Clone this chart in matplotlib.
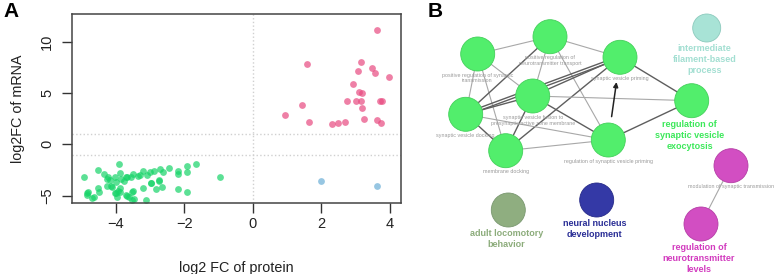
import matplotlib
matplotlib.use('Agg')
import matplotlib.pyplot as plt
from matplotlib.patches import Circle
import numpy as np

plt.rcParams['font.family'] = ['Liberation Sans', 'DejaVu Sans']

# ============================ panel A data ============================
# up in both (pink)
prot_up = [3.62, 1.59, 3.14, 3.08, 3.48, 3.57, 3.98, 2.92, 3.09, 3.17, 2.76, 3.00, 3.14,
           3.70, 3.78, 3.18, 1.44, 0.95, 1.65, 2.32, 2.48, 2.70, 3.25, 3.62, 3.74]
mrna_up = [11.13, 7.85, 8.05, 7.14, 7.43, 6.97, 6.52, 5.90, 5.09, 5.00, 4.19, 4.19, 4.25,
           4.25, 4.19, 3.53, 3.83, 2.88, 2.14, 2.01, 2.07, 2.14, 2.46, 2.40, 2.11]
# down in both (green)
prot_dn = [-3.90, -1.67, -1.93, -2.18, -2.46, -2.71, -2.61, -2.88, -3.00, -3.20, -3.10, -3.36,
           -3.51, -3.55, -3.71, -3.88, -4.02, -4.16, -4.34, -4.24, -4.51, -4.92, -0.97, -1.93,
           -2.18, -2.98, -2.73, -2.64, -2.82, -3.22, -3.51, -3.88, -3.93, -4.03, -3.97, -3.88,
           -3.71, -3.61, -3.48, -3.11, -4.51, -4.48, -4.82, -4.84, -4.65, -4.10, -4.27, -2.18,
           -1.93, -3.76, -4.00, -3.30, -2.75, -4.26, -4.13, -3.84, -3.67, -4.84, -4.69, -3.54,
           -3.52, -2.96, -3.67, -3.99]
mrna_dn = [-1.92, -1.95, -2.10, -2.56, -2.27, -2.43, -2.66, -2.60, -2.73, -2.56, -2.98, -3.08,
           -2.85, -3.18, -3.18, -2.82, -3.15, -3.47, -2.89, -3.15, -2.47, -3.15, -3.18, -2.66,
           -2.89, -3.73, -3.57, -4.12, -4.38, -4.22, -4.58, -4.25, -4.51, -4.77, -5.10, -4.61,
           -4.93, -5.13, -5.36, -5.42, -4.28, -4.61, -4.61, -4.90, -5.16, -4.19, -4.06, -4.32,
           -4.67, -3.60, -3.70, -3.00, -3.45, -3.41, -4.06, -3.35, -3.15, -4.71, -5.26, -5.42,
           -4.61, -3.74, -5.03, -4.71]
# discordant (blue)
prot_mix = [2.00, 3.62]
mrna_mix = [-3.57, -4.03]

xticks = [-4, -2, 0, 2, 4]
yticks = [-5, 0, 5, 10]

# ============================ panel B data ============================
node_names = ['positive regulation of synaptic\ntransmission',
              'positive regulation of\nneurotransmitter transport',
              'synaptic vesicle priming',
              'intermediate\nfilament-based\nprocess',
              'synaptic vesicle fusion to\npresynaptic active zone membrane',
              'synaptic vesicle docking',
              'regulation of\nsynaptic vesicle\nexocytosis',
              'membrane docking',
              'regulation of synaptic vesicle priming',
              'modulation of synaptic transmission',
              'regulation of\nneurotransmitter\nlevels',
              'adult locomotory\nbehavior',
              'neural nucleus\ndevelopment']
node_group = [0, 0, 0, 1, 0, 0, 0, 0, 0, 2, 2, 3, 4]
node_lead = [False, False, False, True, False, False, True, False, False, False, True, True, True]
edges = [(0, 1, 1), (1, 2, 1), (0, 5, 1), (0, 7, 1), (0, 4, 1), (1, 5, 2), (1, 4, 1),
         (1, 8, 1), (2, 5, 3), (2, 4, 2), (2, 7, 2), (2, 6, 2), (4, 6, 1), (4, 8, 2),
         (4, 7, 2), (5, 8, 1), (5, 7, 2), (7, 8, 1), (8, 6, 2), (9, 10, 1), (5, 4, 2)]
arrow_edges = [(8, 2)]

# layout (pixel coordinates of the network view)
node_x = [477.7, 550.0, 620.0, 706.7, 532.7, 465.7, 691.7, 505.7, 608.3, 731.0, 701.0, 508.3, 596.7]
node_y = [54.0, 36.7, 57.3, 28.0, 96.0, 114.3, 100.7, 150.7, 140.0, 165.7, 224.0, 210.0, 200.0]
group_fill = ['#52EE6C', '#A8E3D6', '#D24EC2', '#8FAE80', '#3439A6']
group_edge = ['#43D05A', '#8CCABD', '#B53DA6', '#7A9870', '#262A88']
group_text = ['#3CE85A', '#A3DFD2', '#D23CBF', '#8CAC7B', '#2A2E96']

# ================================ figure ================================
fig = plt.figure(figsize=(7.8, 2.74), dpi=100)

# ------------------------------ panel A ------------------------------
ax = fig.add_axes([72.3 / 780, 71.3 / 274, 329 / 780, 188.7 / 274])
ax.axvline(0, color='#d0d0d0', lw=1, ls=':', zorder=0)
ax.axhline(1, color='#d0d0d0', lw=1, ls=':', zorder=0)
ax.axhline(-1, color='#d0d0d0', lw=1, ls=':', zorder=0)
ax.scatter(prot_up, mrna_up, s=24, color='#E84A80', alpha=0.7, lw=0)
ax.scatter(prot_dn, mrna_dn, s=24, color='#17D468', alpha=0.7, lw=0)
ax.scatter(prot_mix, mrna_mix, s=24, color='#6BAFD6', alpha=0.7, lw=0)
ax.set_xlim(-5.27, 4.33)
ax.set_ylim(-5.69, 12.69)
ax.set_xticks(xticks)
ax.set_xticklabels([str(t).replace('-', '\u2212') for t in xticks])
ax.set_yticks(yticks)
ax.set_yticklabels([str(t).replace('-', '\u2212') for t in yticks], rotation=90, va='center')
ax.tick_params(axis='both', length=7, width=1, color='#333333', labelsize=10.5,
               labelcolor='#222222')
ax.tick_params(axis='x', pad=3)
ax.tick_params(axis='y', pad=6)
for sp in ax.spines.values():
    sp.set_color('#444444')
    sp.set_linewidth(1.1)
ax.set_xlabel('log2 FC of protein', fontsize=10.4, color='#222222', labelpad=22)
ax.set_ylabel('log2FC of mRNA', fontsize=10.4, color='#222222', labelpad=11)
fig.text(3 / 780, 1 - 2 / 274, 'A', fontsize=15, fontweight='bold', va='top', ha='left')

# ------------------------------ panel B ------------------------------
bx = fig.add_axes([410 / 780, 0, 370 / 780, 1])
bx.set_xlim(410, 780)
bx.set_ylim(274, 0)
bx.axis('off')
r = 17
for a, b, w in edges:
    col = '#A8A8A8' if w == 1 else '#5E5E5E'
    lw = 0.8 if w == 1 else 1.0
    if w == 3:
        dx, dy = node_x[b] - node_x[a], node_y[b] - node_y[a]
        n = np.hypot(dx, dy)
        ox, oy = -dy / n * 1.3, dx / n * 1.3
        for s in (-1, 1):
            bx.plot([node_x[a] + s * ox, node_x[b] + s * ox],
                    [node_y[a] + s * oy, node_y[b] + s * oy], color=col, lw=lw, zorder=1)
    else:
        bx.plot([node_x[a], node_x[b]], [node_y[a], node_y[b]], color=col, lw=lw, zorder=1)
for a, b in arrow_edges:
    bx.annotate('', xy=(node_x[b], node_y[b]), xytext=(node_x[a], node_y[a]),
                arrowprops=dict(arrowstyle='-|>', color='#222222', lw=1.1,
                                shrinkA=r, shrinkB=r + 1, mutation_scale=7), zorder=2)
for i, name in enumerate(node_names):
    g = node_group[i]
    rr = 14 if g == 1 else r
    bx.add_patch(Circle((node_x[i], node_y[i]), rr, facecolor=group_fill[g],
                        edgecolor=group_edge[g], lw=0.6, zorder=3))
    nl = name.count('\n') + 1
    if node_lead[i]:
        ty = node_y[i] + rr + 6.3 + (nl - 1) * 11.5 / 2
        bx.text(node_x[i] - 2, ty, name, ha='center', va='center', fontsize=6.5,
                fontweight='bold', color=group_text[g], linespacing=1.3, zorder=4)
    else:
        ty = node_y[i] + rr + 4 + (nl - 1) * 3
        bx.text(node_x[i], ty, name, ha='center', va='center', fontsize=3.85,
                color='#9A9A9A', linespacing=1.25, zorder=4)
fig.text(428 / 780, 1 - 2 / 274, 'B', fontsize=15, fontweight='bold', va='top', ha='left')

fig.savefig('out.png', dpi=100)
